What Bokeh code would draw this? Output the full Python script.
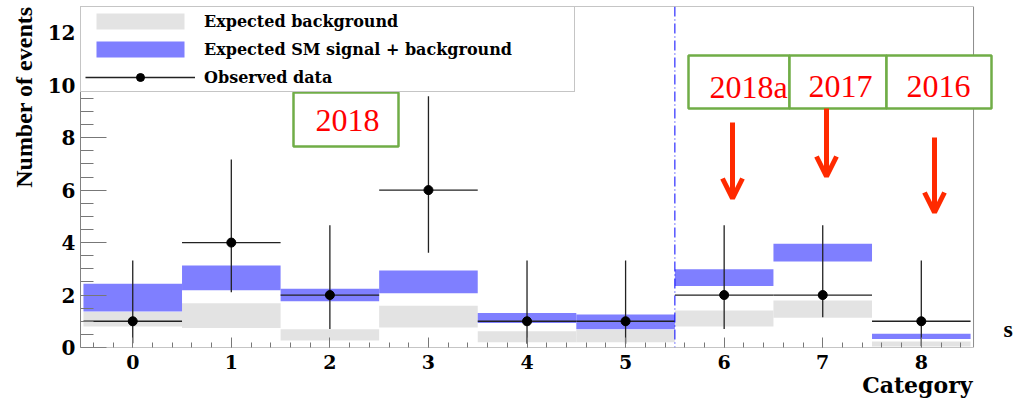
import math
from bokeh.plotting import figure
from bokeh.models import (ColumnDataSource, Range1d, FixedTicker, Span, Legend, LegendItem,
                          Label, BoxAnnotation, Arrow, OpenHead, Title)
from bokeh.embed import file_html
from bokeh.resources import INLINE

# ---------------- data ----------------
categories = [0, 1, 2, 3, 4, 5, 6, 7, 8]
x_tick_labels = ["0", "1", "2", "3", "4", "5", "6", "7", "8"]
y_ticks = [0, 2, 4, 6, 8, 10, 12]

bkg_low = [0.80, 0.74, 0.27, 0.76, 0.20, 0.20, 0.80, 1.13, 0.04]
bkg_high = [1.35, 1.69, 0.70, 1.59, 0.62, 0.68, 1.41, 1.79, 0.23]
sig_low = [1.37, 2.18, 1.76, 2.07, 0.93, 0.70, 2.34, 3.28, 0.32]
sig_high = [2.43, 3.13, 2.24, 2.94, 1.32, 1.26, 2.98, 3.96, 0.52]

observed = [1, 4, 2, 6, 1, 1, 2, 2, 1]
obs_err_low = [0.16, 2.11, 0.71, 3.61, 0.14, 0.14, 0.71, 1.15, 0.05]
obs_err_high = [3.32, 7.17, 4.66, 9.58, 3.32, 3.32, 4.66, 4.66, 3.32]

year_labels = ["2018", "2018a", "2017", "2016"]

# ---------------- sources ----------------
src = ColumnDataSource(dict(
    x=categories,
    left=[c - 0.5 for c in categories],
    right=[c + 0.5 for c in categories],
    bkg_low=bkg_low, bkg_high=bkg_high,
    sig_low=sig_low, sig_high=sig_high,
    obs=observed, lo=obs_err_low, hi=obs_err_high,
))

# layout: frame from x=80 to 1014 px, y=6 to 347 px
BIN_PX = 98.57
X0 = -0.53
X_EDGE = 8.53                      # right edge of the drawn histogram frame
X1 = X0 + (1014 - 80) / BIN_PX     # frame continues to the canvas edge (annotations overflow)
Y0, Y1 = 0, 13
PX_PER_Y = (347 - 6) / (Y1 - Y0)

p = figure(width=1014, height=401, x_range=Range1d(X0, X1), y_range=Range1d(Y0, Y1),
           output_backend="svg", toolbar_location=None, title=None,
           min_border_left=80, min_border_right=0, min_border_top=6, min_border_bottom=54)
p.grid.visible = False
p.outline_line_color = None
p.background_fill_color = "white"
p.border_fill_color = "white"

SERIF_B = "DejaVu Serif"
AX = "#777777"

# x axis
xa = p.xaxis[0]
xa.ticker = FixedTicker(ticks=categories,
                        minor_ticks=[round(-0.4 + 0.2 * i, 2) for i in range(45)])
xa.major_label_overrides = {c: l for c, l in zip(categories, x_tick_labels)}
xa.major_tick_in = 10
xa.major_tick_out = 0
xa.minor_tick_in = 5
xa.minor_tick_out = 0
xa.major_label_standoff = 7
xa.major_label_text_font = SERIF_B
xa.major_label_text_font_style = "bold"
xa.major_label_text_font_size = "19px"
xa.major_label_text_color = "black"
xa.axis_line_color = None
xa.major_tick_line_color = AX
xa.minor_tick_line_color = AX

# y axis
ya = p.yaxis[0]
ya.ticker = FixedTicker(ticks=y_ticks,
                        minor_ticks=[0.5 * i for i in range(27) if i % 4 != 0])
ya.major_tick_in = 26
ya.major_tick_out = 0
ya.minor_tick_in = 13
ya.minor_tick_out = 0
ya.major_label_standoff = 5
ya.major_label_text_font = SERIF_B
ya.major_label_text_font_style = "bold"
ya.major_label_text_font_size = "20px"
ya.major_label_text_color = "black"
ya.axis_line_color = AX
ya.major_tick_line_color = AX
ya.minor_tick_line_color = AX

# axis titles (ROOT style: aligned to the axis ends)
p.add_layout(Title(text="Number of events", align="right", vertical_align="bottom",
                   text_font="Liberation Serif", text_font_style="bold",
                   text_font_size="24px", text_color="black", standoff=16, offset=0), "left")
p.add_layout(Title(text="Category", align="right", vertical_align="top",
                   text_font=SERIF_B, text_font_style="bold",
                   text_font_size="22px", text_color="black", standoff=0,
                   offset=1014 - 972), "below")

# ---------------- glyphs ----------------
r_bkg = p.quad(left="left", right="right", bottom="bkg_low", top="bkg_high", source=src,
               fill_color="#e3e3e3", line_color=None)
r_sig = p.quad(left="left", right="right", bottom="sig_low", top="sig_high", source=src,
               fill_color="#7f7fff", line_color=None)
r_h = p.segment(x0="left", y0="obs", x1="right", y1="obs", source=src,
                line_color="#222222", line_width=1.3)
r_v = p.segment(x0="x", y0="lo", x1="x", y1="hi", source=src,
                line_color="#222222", line_width=1.3)
r_pt = p.scatter(x="x", y="obs", source=src, size=9, marker="circle",
                 fill_color="black", line_color="black")

p.add_layout(Span(location=5.5, dimension="height", line_color="#0000ff",
                  line_width=1, line_dash="10 3 1 3"))

# histogram frame border
p.add_layout(BoxAnnotation(left=X0, right=X_EDGE, bottom=Y0, top=Y1,
                           fill_color=None, line_color="#8c8c8c", line_width=1, line_alpha=1.0))


def dx(px):
    return X0 + (px - 80) / BIN_PX


def dy(py):
    return (347 - py) / PX_PER_Y


# green boxes
GREEN = "#70ad47"
for (l, r, t, b) in [(293, 398, 92, 146), (688, 789, 55, 108), (789, 886, 55, 108), (886, 991, 55, 108)]:
    p.add_layout(BoxAnnotation(left=dx(l), right=dx(r), top=dy(t), bottom=dy(b),
                               fill_color="white", fill_alpha=1.0,
                               line_color=GREEN, line_width=2.5, line_alpha=1.0))

# year labels
for txt, (cx, cy) in zip(year_labels, [(347, 120), (748, 86), (840, 86), (938, 86)]):
    p.add_layout(Label(x=dx(cx), y=dy(cy), text=txt, text_font="Liberation Serif",
                       text_font_size="32px", text_color="#ff0000",
                       text_align="center", text_baseline="middle"))

# red arrows
RED = "#ff2a00"
for (ax, ys, ye) in [(732, 122, 198), (826, 108, 176), (934, 137, 212)]:
    p.add_layout(Arrow(end=OpenHead(size=20, line_color=RED, line_width=5),
                       x_start=dx(ax), y_start=dy(ys), x_end=dx(ax), y_end=dy(ye),
                       line_color=RED, line_width=5))

# stray character at the right edge
p.add_layout(Label(x=dx(1003), y=dy(328), text="s", text_font="Liberation Serif",
                   text_font_style="bold", text_font_size="24px",
                   text_align="left", text_baseline="middle", text_color="black"))

# ---------------- legend ----------------
legend = Legend(items=[
    LegendItem(label="Expected background", renderers=[r_bkg]),
    LegendItem(label="Expected SM signal + background", renderers=[r_sig]),
    LegendItem(label="Observed data", renderers=[r_h, r_pt]),
], location="top_left", margin=0, padding=4, spacing=8,
    glyph_width=110, glyph_height=20, label_standoff=9,
    label_width=366, label_height=20,
    label_text_font=SERIF_B, label_text_font_style="bold", label_text_font_size="16px",
    label_text_color="black",
    border_line_color="#8c8c8c", border_line_width=1,
    background_fill_color="white", background_fill_alpha=1.0)
p.add_layout(legend, "center")

open("out.html", "w").write(file_html(p, INLINE))
